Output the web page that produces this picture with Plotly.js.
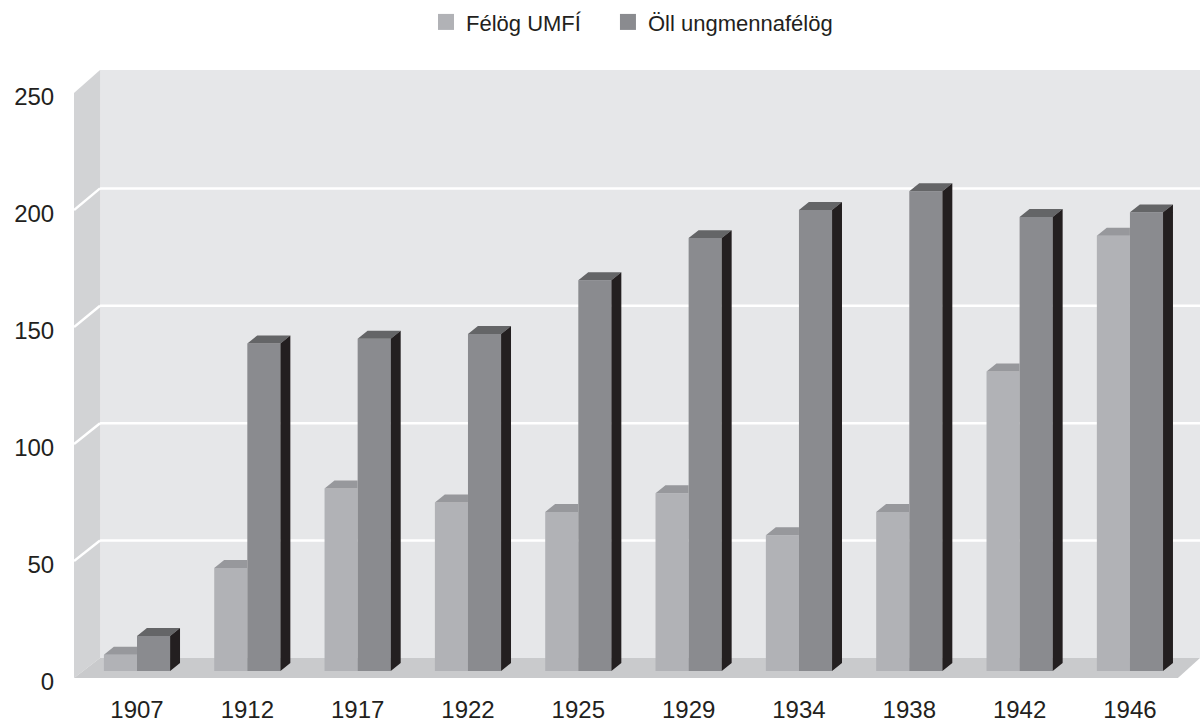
<!DOCTYPE html>
<html><head><meta charset="utf-8">
<script src="https://cdn.plot.ly/plotly-3.0.1.min.js"></script>
<style>html,body{margin:0;padding:0;background:#fff}#chart{width:1200px;height:727px}</style>
</head><body><div id="chart"></div>
<script>
// ---- data ----
const years = ['1907','1912','1917','1922','1925','1929','1934','1938','1942','1946'];
const felogUMFI = [7, 44, 78, 72, 68, 76, 58, 68, 128, 186];
const ollUngmennafelog = [15, 140, 142, 144, 167, 185, 197, 205, 194, 196];
const seriesNames = ['Félög UMFÍ', 'Öll ungmennafélög'];
const yTicks = [0, 50, 100, 150, 200, 250];
const gridTicks = [50, 100, 150, 200];

// ---- style / geometry ----
const C_LIGHT = '#b1b2b6', C_LIGHT_TOP = '#97989c';
const C_DARK = '#8a8b8f', C_DARK_TOP = '#646567', C_DARK_SIDE = '#231f20';
const C_BACK = '#e6e7e9', C_SIDE = '#d2d3d5', C_FLOOR = '#c9cacc';
const BAR_W = 0.3, DX = 0.09, DY = 3.4;
const X_RANGE = [-0.571, 9.635], Y_RANGE = [-5.98, 256.84];
const BACK_LEFT = -0.335, FLOOR_RIGHT = 9.435;
const BACK_Y0 = 5.56, BACK_K = 1.0034, FRONT_Y0 = -2.99;
const LABEL_SHIFT = 4.49;
const FONT = 'Liberation Sans, Arial, Helvetica, sans-serif';
const TXT = '#231f20';

const idx = years.map((_, i) => i);
const back = v => BACK_Y0 + BACK_K * v;
const front = v => FRONT_Y0 + v;

// ---- 3D faces built from the data ----
function polys(build) {
  const xs = [], ys = [];
  idx.forEach(i => { const p = build(i); p.forEach(q => { xs.push(q[0]); ys.push(q[1]); }); xs.push(null); ys.push(null); });
  return {xs, ys};
}
const lightTop = polys(i => { const t = felogUMFI[i]; const x0 = i - BAR_W;
  return [[x0, t], [x0 + DX, t + DY], [i, t + DY], [i, t], [x0, t]]; });
const darkTop = polys(i => { const t = ollUngmennafelog[i]; const x0 = i, x1 = i + BAR_W;
  return [[x0, t], [x0 + DX, t + DY], [x1 + DX, t + DY], [x1, t], [x0, t]]; });
const darkSide = polys(i => { const t = ollUngmennafelog[i]; const x1 = i + BAR_W;
  return [[x1, t], [x1 + DX, t + DY], [x1 + DX, DY], [x1, 0], [x1, t]]; });

function face(p, color) {
  return {type: 'scatter', mode: 'lines', x: p.xs, y: p.ys, fill: 'toself', fillcolor: color,
    line: {width: 0, color: color}, showlegend: false, hoverinfo: 'skip'};
}

const traces = [
  {type: 'bar', name: seriesNames[0], x: idx, y: felogUMFI, width: BAR_W, offset: -BAR_W,
   marker: {color: C_LIGHT, line: {width: 0}}, showlegend: false},
  {type: 'bar', name: seriesNames[1], x: idx, y: ollUngmennafelog, width: BAR_W, offset: 0,
   marker: {color: C_DARK, line: {width: 0}}, showlegend: false},
  face(lightTop, C_LIGHT_TOP),
  face(darkTop, C_DARK_TOP),
  face(darkSide, C_DARK_SIDE),
  {type: 'scatter', mode: 'markers', x: [null], y: [null], name: seriesNames[0], legend: 'legend',
   marker: {symbol: 'square', size: 16, color: C_LIGHT}, hoverinfo: 'skip'},
  {type: 'scatter', mode: 'markers', x: [null], y: [null], name: seriesNames[1], legend: 'legend2',
   marker: {symbol: 'square', size: 16, color: C_DARK}, hoverinfo: 'skip'},
  {type: 'scatter', mode: 'markers', x: [null], y: [null], yaxis: 'y2', showlegend: false, hoverinfo: 'skip'}
];

// ---- chart box (walls, floor, gridlines) ----
const X0 = X_RANGE[0], X1 = X_RANGE[1];
const shapes = [
  {type: 'rect', layer: 'below', xref: 'x', yref: 'y', x0: BACK_LEFT, x1: X1, y0: back(0), y1: Y_RANGE[1],
   fillcolor: C_BACK, line: {width: 0}},
  {type: 'path', layer: 'below', xref: 'x', yref: 'y',
   path: `M${X0},${front(0)} L${BACK_LEFT},${back(0)} L${BACK_LEFT},${Y_RANGE[1]} L${X0},${front(250)} Z`,
   fillcolor: C_SIDE, line: {width: 0}},
  {type: 'path', layer: 'below', xref: 'x', yref: 'y',
   path: `M${X0},${front(0)} L${FLOOR_RIGHT},${front(0)} L${X1},${back(0)} L${BACK_LEFT},${back(0)} Z`,
   fillcolor: C_FLOOR, line: {width: 0}}
];
gridTicks.forEach(v => {
  shapes.push({type: 'line', layer: 'below', xref: 'x', yref: 'y', x0: BACK_LEFT, x1: X1, y0: back(v), y1: back(v),
    line: {color: '#ffffff', width: 2.5}});
  shapes.push({type: 'line', layer: 'below', xref: 'x', yref: 'y', x0: X0, x1: BACK_LEFT, y0: front(v), y1: back(v),
    line: {color: '#ffffff', width: 2.5}});
});

const legendBase = {orientation: 'h', xanchor: 'left', y: 1.112, yanchor: 'top',
  font: {family: FONT, size: 22, color: TXT}, bgcolor: 'rgba(0,0,0,0)', itemclick: false, itemdoubleclick: false};

const layout = {
  width: 1200, height: 727,
  margin: {l: 74, r: 0, t: 70, b: 42, pad: 0},
  paper_bgcolor: '#ffffff', plot_bgcolor: '#ffffff',
  font: {family: FONT, color: TXT, size: 24},
  barmode: 'overlay',
  hovermode: false,
  showlegend: true,
  legend: Object.assign({}, legendBase, {x: 0.3126}),
  legend2: Object.assign({}, legendBase, {x: 0.4742}),
  xaxis: {range: X_RANGE, tickmode: 'array', tickvals: idx, ticktext: years, showgrid: false, zeroline: false,
    showline: false, ticks: 'outside', ticklen: 3, tickcolor: 'rgba(0,0,0,0)', tickfont: {size: 24, color: TXT},
    fixedrange: true},
  yaxis: {range: Y_RANGE, showgrid: false, zeroline: false, showline: false, showticklabels: false, ticks: '',
    fixedrange: true},
  yaxis2: {overlaying: 'y', side: 'left', anchor: 'x', range: [Y_RANGE[0] + LABEL_SHIFT, Y_RANGE[1] + LABEL_SHIFT],
    tickmode: 'array', tickvals: yTicks, ticktext: yTicks.map(String), showgrid: false, zeroline: false,
    showline: false, ticks: 'outside', ticklen: 14, tickcolor: 'rgba(0,0,0,0)', tickfont: {size: 24, color: TXT},
    fixedrange: true},
  shapes: shapes
};

Plotly.newPlot('chart', traces, layout, {displayModeBar: false, staticPlot: true});
</script>
</body></html>
